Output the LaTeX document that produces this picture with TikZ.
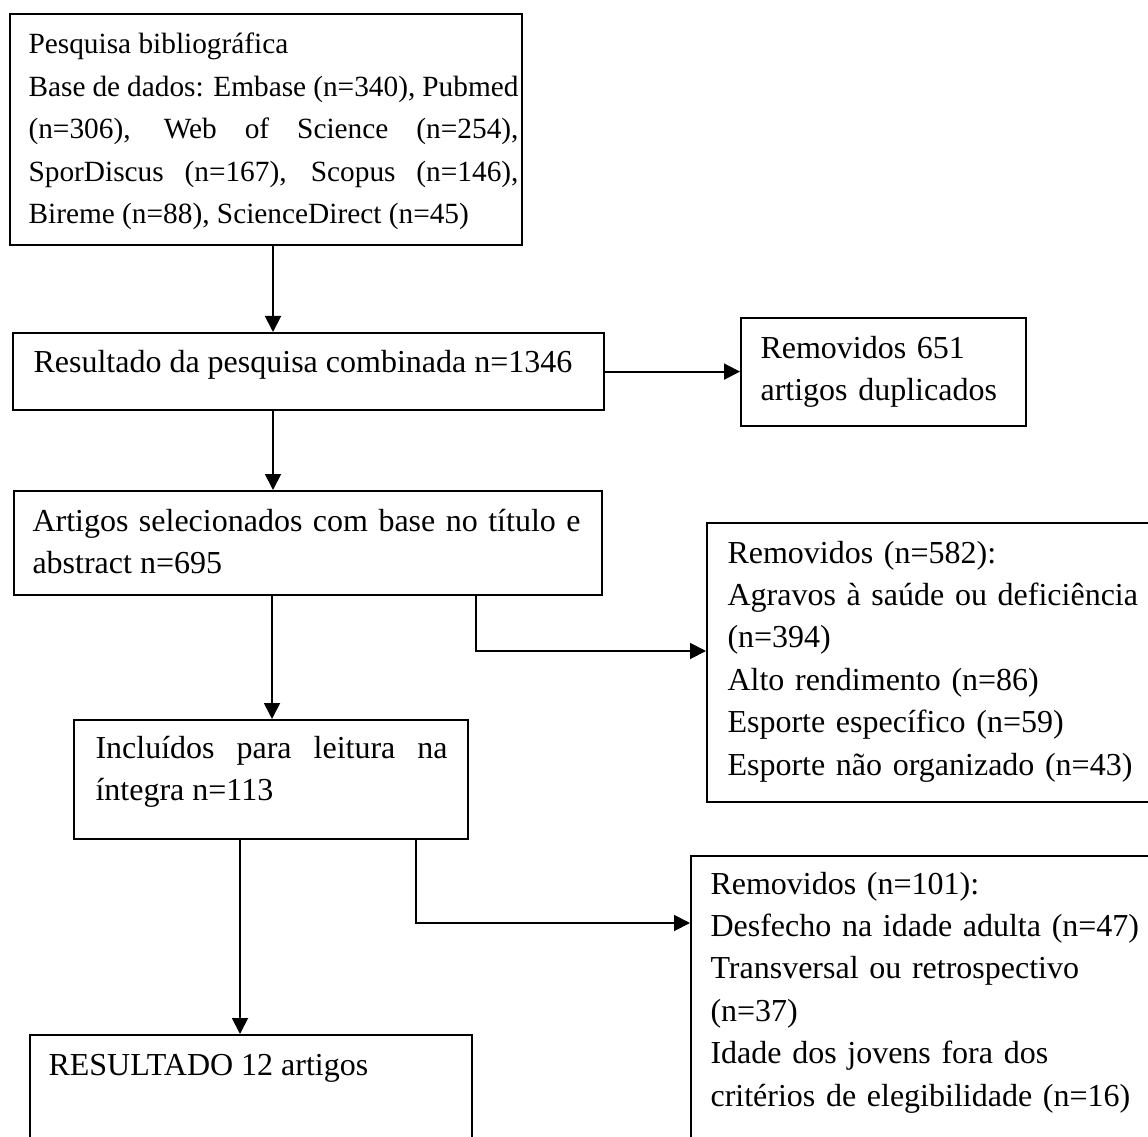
\documentclass[tikz,border=0pt]{standalone}
\usepackage{fontspec}
\setmainfont{Liberation Serif}
\usetikzlibrary{arrows.meta}
\hbadness=10000
\begin{document}
\begin{tikzpicture}[x=0.375pt,y=-0.375pt,
  caixa/.style={draw,line width=0.8pt,anchor=north west,inner sep=0pt},
  texto/.style={anchor=base west,inner sep=0pt,align=left,font=\fontsize{12}{15.9}\selectfont},
  seta/.style={-{Triangle[length=6pt,width=6pt]},line width=0.7pt}]
\useasboundingbox (0,0) rectangle (1148,1137);
\clip (0,0) rectangle (1148,1137);
\node[caixa,minimum width=192pt,minimum height=86.6pt] (pesquisa) at (9,13) {};
\node[caixa,minimum width=221.6pt,minimum height=28.9pt] (combinada) at (12,332) {};
\node[caixa,minimum width=106.9pt,minimum height=40.5pt] (duplicados) at (740,317) {};
\node[caixa,minimum width=220.5pt,minimum height=39pt] (selecionados) at (13,490) {};
\node[caixa,minimum width=172.5pt,minimum height=104.6pt] (removA) at (706,522) {};
\node[caixa,minimum width=147.8pt,minimum height=44.6pt] (incluidos) at (73,719) {};
\node[caixa,minimum width=176.3pt,minimum height=120pt] (removB) at (690,855) {};
\node[caixa,minimum width=165.8pt,minimum height=56.3pt] (resultado) at (29,1034) {};
\node[texto,align=justify,text width=183.75pt,font=\fontsize{11}{15.9}\selectfont] (tpesquisa) at ([shift={(19,41)}]pesquisa.north west)
  {Pesquisa bibliográfica\\ Base de dados: Embase (n=340), Pubmed\linebreak (n=306), Web of Science (n=254),\linebreak SporDiscus (n=167), Scopus (n=146),\linebreak Bireme (n=88), ScienceDirect (n=45)};
\node[texto] (tcombinada) at ([shift={(21,40)}]combinada.north west) {Resultado da pesquisa combinada n=1346};
\node[texto,text width=97pt] (tduplicados) at ([shift={(20,41)}]duplicados.north west) {Removidos 651\\artigos duplicados};
\node[texto,align=justify,text width=205.5pt] (tselecionados) at ([shift={(19,41)}]selecionados.north west)
  {Artigos selecionados com base no título e\linebreak abstract n=695};
\node[texto,text width=161pt] (tremovA) at ([shift={(21,41)}]removA.north west)
  {Removidos (n=582):\\Agravos à saúde ou deficiência\\(n=394)\\Alto rendimento (n=86)\\Esporte específico (n=59)\\Esporte não organizado (n=43)};
\node[texto,align=justify,text width=132pt] (tincluidos) at ([shift={(22,39)}]incluidos.north west)
  {Incluídos para leitura na\linebreak íntegra n=113};
\node[texto,text width=165pt] (tremovB) at ([shift={(20,39)}]removB.north west)
  {Removidos (n=101):\\Desfecho na idade adulta (n=47)\\Transversal ou retrospectivo\\(n=37)\\Idade dos jovens fora dos\\critérios de elegibilidade (n=16)};
\node[texto] (tresultado) at ([shift={(19,41)}]resultado.north west) {RESULTADO 12 artigos};
\draw[seta] (273,0 |- pesquisa.south) -- (273,0 |- combinada.north);
\draw[seta] (combinada.east) -- (combinada.east -| duplicados.west);
\draw[seta] (273,0 |- combinada.south) -- (273,0 |- selecionados.north);
\draw[seta] (476,0 |- selecionados.south) |- (removA.west |- 0,651);
\draw[seta] (272,0 |- selecionados.south) -- (272,0 |- incluidos.north);
\draw[seta] (416,0 |- incluidos.south) |- (removB.west |- 0,923);
\draw[seta] (240,0 |- incluidos.south) -- (240,0 |- resultado.north);
\end{tikzpicture}
\end{document}
